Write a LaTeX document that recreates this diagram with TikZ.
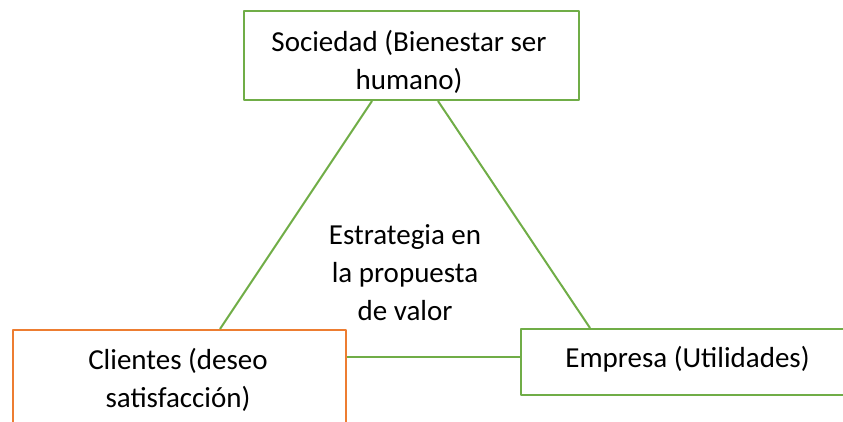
\documentclass[tikz,border=0pt]{standalone}
\usepackage{fontspec}
\setmainfont{Carlito}
\definecolor{vgreen}{RGB}{112,173,71}
\definecolor{vorange}{RGB}{237,125,49}
\begin{document}
\begin{tikzpicture}[x=1pt,y=-1pt,line join=round,
  box/.style={draw=#1,line width=2pt,inner sep=0pt},
  txt/.style={align=center,font=\fontsize{29}{38}\selectfont,inner sep=0pt},
  link/.style={draw=vgreen,line width=2pt}]
\useasboundingbox (0,0) rectangle (843,422);
% boxes
\node[box=vgreen,minimum width=335pt,minimum height=89pt] (soc) at (411.5,55.5) {};
\node[box=vorange,minimum width=333pt,minimum height=100pt] (cli) at (179.5,380) {};
\node[box=vgreen,minimum width=333pt,minimum height=66pt] (emp) at (687.5,362) {};
% texts
\node[txt] (soctxt) at (409,62) {Sociedad (Bienestar ser\\humano)};
\node[txt] (clitxt) at (178,379.5) {Clientes (deseo\\satisfacción)};
\node[txt] (emptxt) at (687.5,359.5) {Empresa (Utilidades)};
\node[txt] (strat) at (405,273) {Estrategia en\\la propuesta\\de valor};
% connectors
\draw[link] ([xshift=-39.5pt]soc.south) -- ([xshift=40.5pt]cli.north);
\draw[link] ([xshift=26.5pt]soc.south) -- ([xshift=-97.5pt]emp.north);
\coordinate (mid) at ([yshift=23pt]cli.east);
\draw[link] (mid) -- (mid -| emp.west);
\end{tikzpicture}
\end{document}
